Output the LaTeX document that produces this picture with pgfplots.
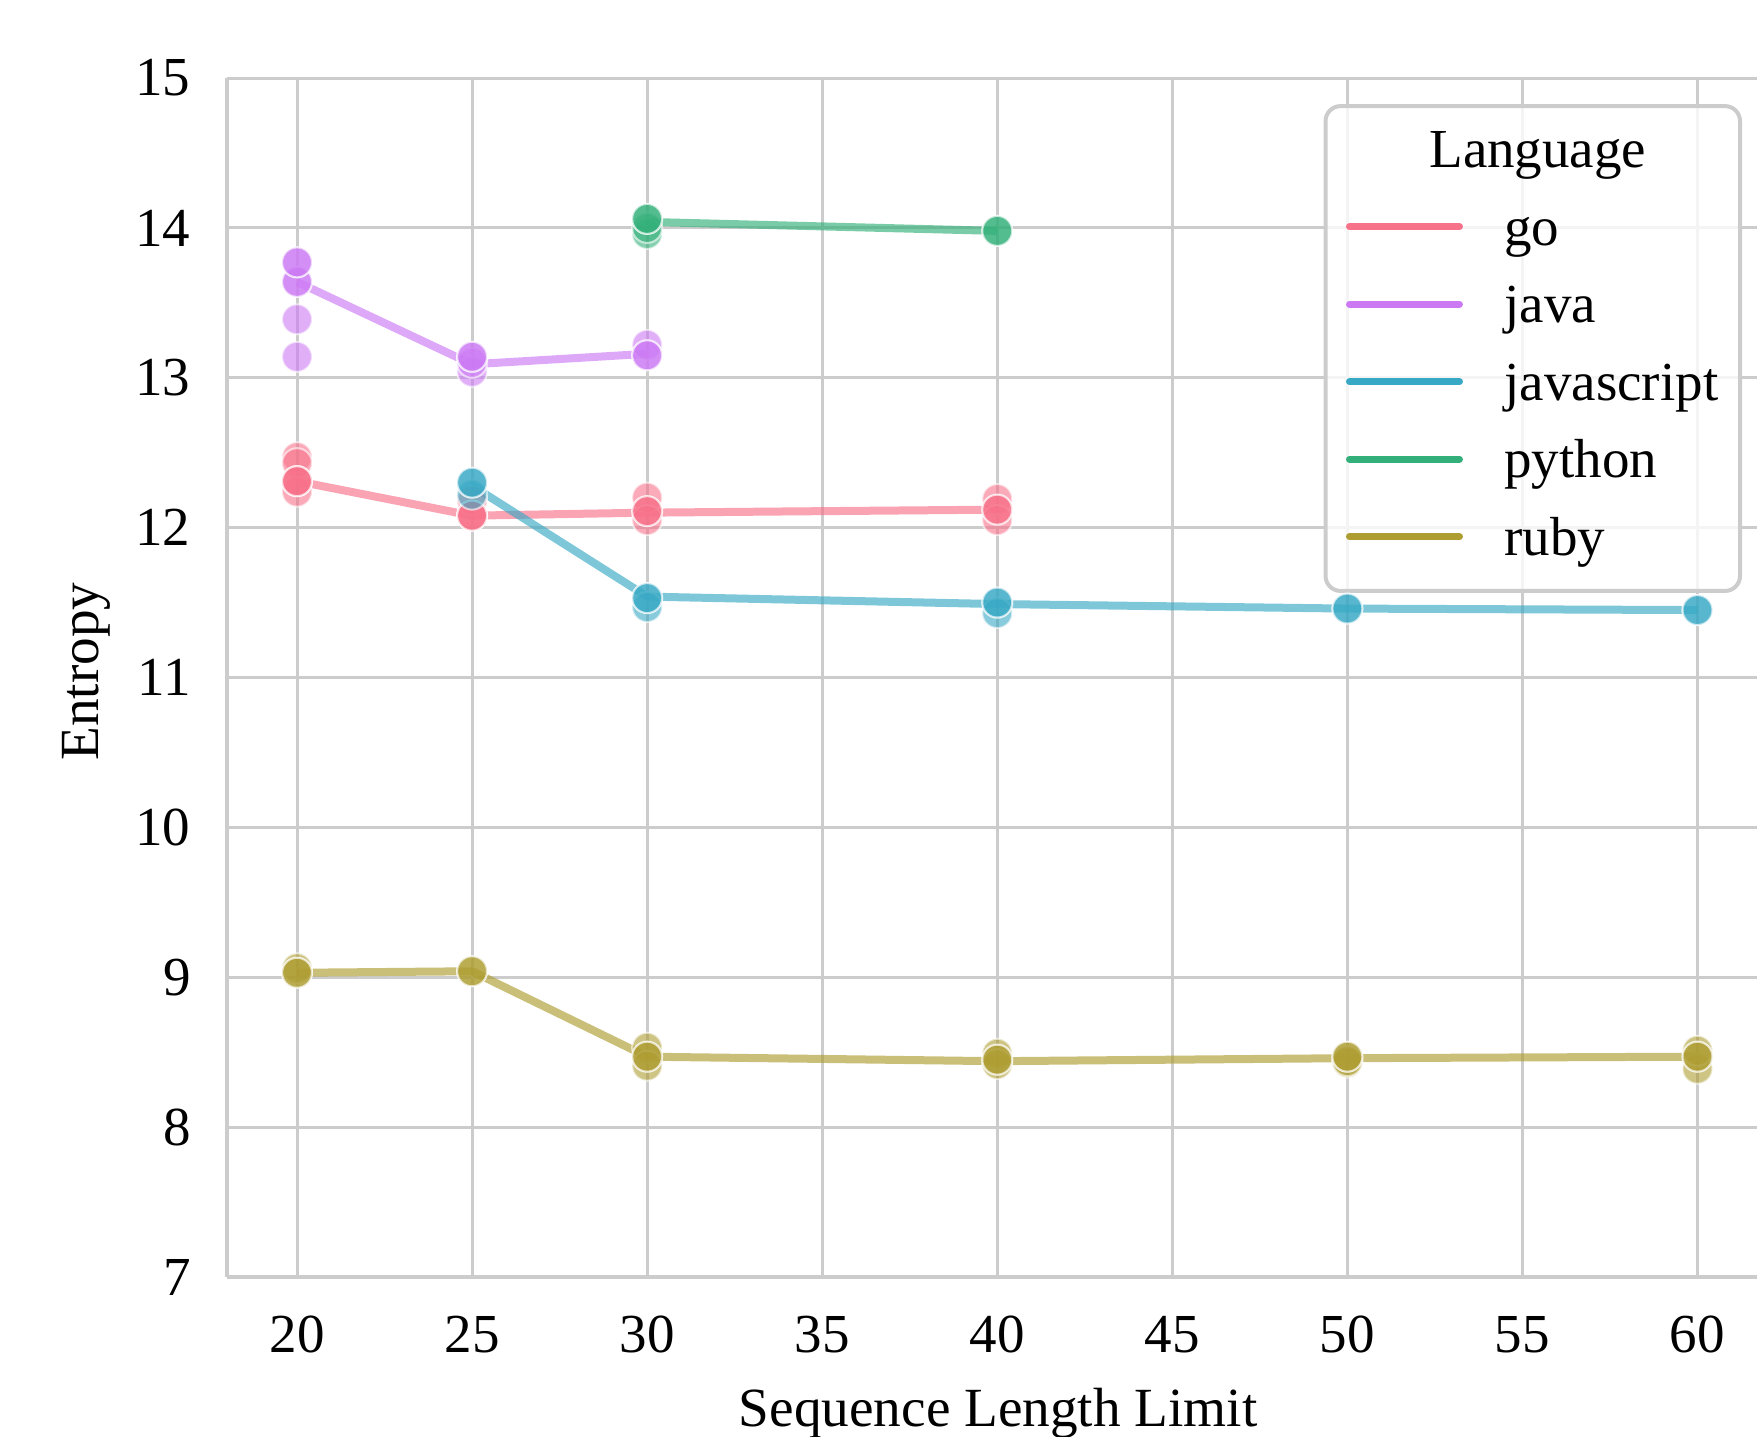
\documentclass[border=0pt]{standalone}
\usepackage{pgfplots}
\pgfplotsset{compat=1.18}
\usepackage{fontspec}
\setmainfont{Liberation Serif}
\definecolor{goC}{RGB}{247,113,137}
\definecolor{javaC}{RGB}{204,122,244}
\definecolor{jsC}{RGB}{56,169,197}
\definecolor{pyC}{RGB}{51,176,122}
\definecolor{rubyC}{RGB}{174,157,49}
\definecolor{gridC}{RGB}{204,204,204}
\newcommand{\fs}{\fontsize{11}{13}\selectfont}
\newcommand{\fl}{\fontsize{11.05}{13}\selectfont}
\begin{document}
\begin{tikzpicture}
\path[use as bounding box] (0,0) rectangle (351.4pt,287.2pt);
\begin{axis}[
  at={(45.4pt,31.8pt)}, anchor=south west,
  scale only axis, width=306pt, height=239.8pt,
  xmin=18, xmax=61.7, ymin=7, ymax=15,
  xtick={20,25,...,60}, ytick={7,8,...,15},
  axis x line*=bottom, axis y line*=left,
  axis line style={line width=0.8pt, color=gridC},
  grid=major, major grid style={line width=0.6pt, color=gridC},
  major tick length=0pt,
  /pgf/number format/assume math mode=true,
  tick label style={font=\fs},
  xticklabel style={anchor=north, inner sep=0pt, yshift=-7.6pt},
  yticklabel style={anchor=east, inner sep=0pt, xshift=-7.1pt},
  xlabel={\fl Sequence Length Limit}, ylabel={\fl Entropy},
  every axis x label/.style={at={(axis description cs:0.504,-0.1243)}, anchor=base, font=\fl},
  every axis y label/.style={at={(axis description cs:-0.0837,0.505)}, anchor=base, rotate=90, font=\fl},
  legend image code/.code={\draw[#1, line width=1.4pt, line cap=round, opacity=1] (0pt,1.2pt) -- (22pt,1.2pt);},
  legend cell align=left,
  legend style={at={(axis description cs:0.7307,0.9573)}, anchor=north west,
    draw=none, fill=none, inner sep=0pt, row sep=5.5pt, column sep=8.3pt,
    font=\fs, nodes={inner sep=0pt, text height=7.5pt, text depth=2.5pt}},
  lin/.style={no markers, line width=1.6pt, opacity=0.65, forget plot},
  pts/.style={only marks, mark=*, mark size=3pt, forget plot,
    mark options={fill=#1, draw=white, line width=0.4pt, opacity=0.6}},
]
% mean lines
\addplot[lin, color=goC] coordinates {(20,12.31) (25,12.08) (30,12.10) (40,12.12)};
\addplot[lin, color=javaC] coordinates {(20,13.64) (25,13.09) (30,13.16)};
\addplot[lin, color=jsC] coordinates {(25,12.28) (30,11.54) (40,11.49) (50,11.46) (60,11.45)};
\addplot[lin, color=pyC] coordinates {(30,14.04) (40,13.98)};
\addplot[lin, color=rubyC] coordinates {(20,9.03) (25,9.04) (30,8.47) (40,8.44) (50,8.46) (60,8.47)};
% individual runs
\addplot[pts=goC] coordinates {(20,12.47) (20,12.43) (20,12.24) (20,12.31) (20,12.31) (20,12.31)
  (25,12.18) (25,12.08) (25,12.08) (25,12.08)
  (30,12.20) (30,12.05) (30,12.11) (30,12.11)
  (40,12.19) (40,12.05) (40,12.12) (40,12.12)};
\addplot[pts=javaC] coordinates {(20,13.14) (20,13.39) (20,13.64) (20,13.64) (20,13.77) (20,13.77)
  (25,13.04) (25,13.10) (25,13.14) (25,13.14)
  (30,13.22) (30,13.15) (30,13.15)};
\addplot[pts=jsC] coordinates {(25,12.22) (25,12.30) (25,12.30)
  (30,11.47) (30,11.53) (30,11.53)
  (40,11.43) (40,11.50) (40,11.50)
  (50,11.46) (50,11.46) (60,11.45) (60,11.45)};
\addplot[pts=pyC] coordinates {(30,13.96) (30,14.00) (30,14.06) (30,14.06)
  (40,13.98) (40,13.98)};
\addplot[pts=rubyC] coordinates {(20,9.06) (20,9.03) (20,9.03) (25,9.04) (25,9.04)
  (30,8.53) (30,8.41) (30,8.47) (30,8.47)
  (40,8.49) (40,8.42) (40,8.45) (40,8.45)
  (50,8.43) (50,8.44) (50,8.47) (50,8.47)
  (60,8.39) (60,8.51) (60,8.47) (60,8.47)};
% legend frame
\draw[draw=gridC, line width=0.8pt, fill=white, fill opacity=0.8, rounded corners=3pt]
  (axis description cs:0.7180,0.5722) rectangle (axis description cs:0.9889,0.9766);
\addlegendimage{empty legend}\addlegendentry{\hspace{-15pt}Language}
\addlegendimage{color=goC}\addlegendentry{go}
\addlegendimage{color=javaC}\addlegendentry{java}
\addlegendimage{color=jsC}\addlegendentry{javascript}
\addlegendimage{color=pyC}\addlegendentry{python}
\addlegendimage{color=rubyC}\addlegendentry{ruby}
\end{axis}
\end{tikzpicture}
\end{document}
